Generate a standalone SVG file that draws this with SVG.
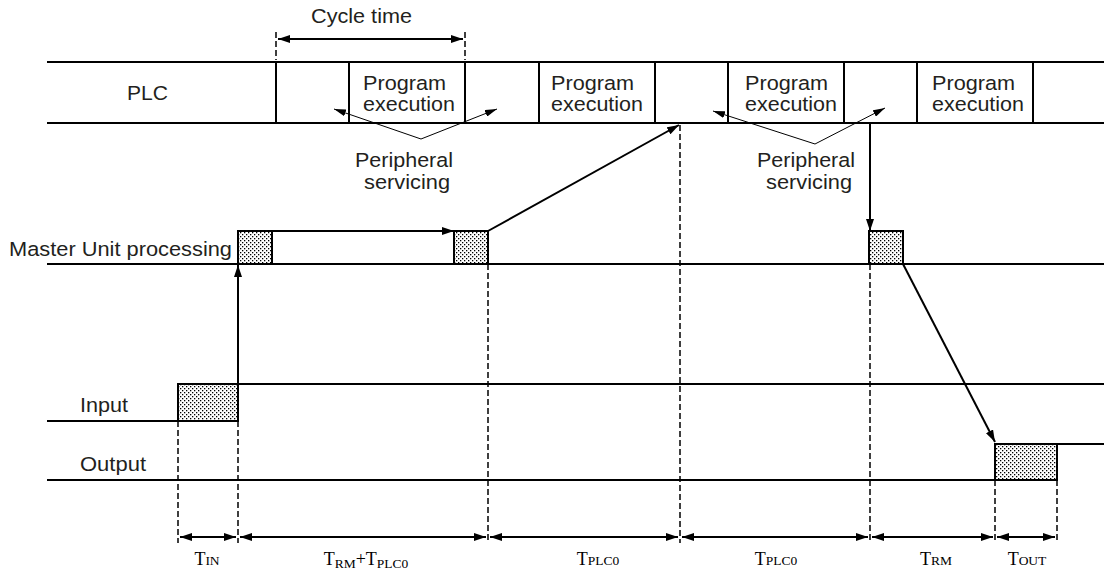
<svg xmlns="http://www.w3.org/2000/svg" width="1104" height="569" viewBox="0 0 1104 569">
<style>
.ln{stroke:#000;stroke-width:2;fill:none}
.thin{stroke:#000;stroke-width:1;fill:none}
.dash{stroke:#000;stroke-width:1.5;stroke-dasharray:6 3;fill:none}
.box{fill:url(#dots);stroke:#000;stroke-width:2}
.t{font-family:"Liberation Sans",Arial,sans-serif;font-size:20.5px;fill:#231f20}
.s{font-family:"Liberation Serif","Times New Roman",serif;fill:#000}
.big{font-size:18px}
.sm{font-size:13.5px}
</style>
<defs>
<pattern id="dots" width="4" height="4" patternUnits="userSpaceOnUse">
<rect width="4" height="4" fill="#fff"/>
<rect x="0" y="0" width="1.3" height="1.3" fill="#000"/>
<rect x="2" y="2" width="1.3" height="1.3" fill="#000"/>
</pattern>
<marker id="ah" viewBox="0 0 12 8" refX="12" refY="4" markerWidth="12" markerHeight="8" markerUnits="userSpaceOnUse" orient="auto-start-reverse">
<path d="M0,0 L12,4 L0,8 z" fill="#000"/>
</marker>
<marker id="ahs" viewBox="0 0 12 7" refX="12" refY="3.5" markerWidth="12" markerHeight="7" markerUnits="userSpaceOnUse" orient="auto">
<path d="M0,0 L12,3.5 L0,7 z" fill="#000"/>
</marker>
</defs>

<g id="plc">
<line class="ln" x1="47" y1="62" x2="1104" y2="62"/>
<line class="ln" x1="47" y1="123" x2="1104" y2="123"/>
<path class="ln" d="M276,62V123M349,62V123M465,62V123M539,62V123M655,62V123M728,62V123M844,62V123M917,62V123M1033,62V123"/>
<text class="t" x="127" y="100" textLength="41" lengthAdjust="spacingAndGlyphs">PLC</text>
<text class="t" x="363" y="90" textLength="83" lengthAdjust="spacingAndGlyphs">Program</text><text class="t" x="363" y="111" textLength="92" lengthAdjust="spacingAndGlyphs">execution</text>
<text class="t" x="551" y="90" textLength="83" lengthAdjust="spacingAndGlyphs">Program</text><text class="t" x="551" y="111" textLength="92" lengthAdjust="spacingAndGlyphs">execution</text>
<text class="t" x="745" y="90" textLength="83" lengthAdjust="spacingAndGlyphs">Program</text><text class="t" x="745" y="111" textLength="92" lengthAdjust="spacingAndGlyphs">execution</text>
<text class="t" x="932" y="90" textLength="83" lengthAdjust="spacingAndGlyphs">Program</text><text class="t" x="932" y="111" textLength="92" lengthAdjust="spacingAndGlyphs">execution</text>
</g>

<g id="cycle-time">
<path class="dash" d="M276,32V60M465,32V60"/>
<line class="ln" x1="278" y1="39" x2="463" y2="39" marker-start="url(#ah)" marker-end="url(#ah)"/>
<text class="t" x="311" y="23" textLength="101" lengthAdjust="spacingAndGlyphs">Cycle time</text>
</g>

<g id="peripheral-1">
<line class="thin" x1="421" y1="139" x2="334" y2="109" marker-end="url(#ahs)"/>
<line class="thin" x1="421" y1="139" x2="497" y2="109" marker-end="url(#ahs)"/>
<text class="t" x="355" y="167" textLength="98" lengthAdjust="spacingAndGlyphs">Peripheral</text>
<text class="t" x="364" y="189" textLength="86" lengthAdjust="spacingAndGlyphs">servicing</text>
</g>

<g id="peripheral-2">
<line class="thin" x1="815" y1="144" x2="713" y2="111" marker-end="url(#ahs)"/>
<line class="thin" x1="815" y1="144" x2="885" y2="108" marker-end="url(#ahs)"/>
<text class="t" x="757" y="167" textLength="98" lengthAdjust="spacingAndGlyphs">Peripheral</text>
<text class="t" x="766" y="189" textLength="86" lengthAdjust="spacingAndGlyphs">servicing</text>
</g>

<g id="master">
<line class="ln" x1="47" y1="264" x2="1104" y2="264"/>
<rect class="box" x="238" y="231" width="34" height="33"/>
<rect class="box" x="454" y="231" width="34" height="33"/>
<rect class="box" x="869" y="231" width="34" height="33"/>
<text class="t" x="9" y="256" textLength="223" lengthAdjust="spacingAndGlyphs">Master Unit processing</text>
</g>

<g id="input">
<path class="ln" d="M47,421H178M238,384H1104"/>
<rect class="box" x="178" y="384" width="60" height="37"/>
<text class="t" x="80" y="412" textLength="48" lengthAdjust="spacingAndGlyphs">Input</text>
</g>

<g id="output">
<path class="ln" d="M47,480H995M1057,444H1104"/>
<rect class="box" x="995" y="444" width="62" height="36"/>
<text class="t" x="80" y="471" textLength="66" lengthAdjust="spacingAndGlyphs">Output</text>
</g>

<g id="connectors">
<line class="ln" x1="238" y1="384" x2="238" y2="265" marker-end="url(#ah)"/>
<line class="ln" x1="272" y1="231" x2="454" y2="231" marker-end="url(#ah)"/>
<line class="ln" x1="488" y1="231" x2="679" y2="125" marker-end="url(#ah)"/>
<line class="ln" x1="870" y1="123" x2="870" y2="231" marker-end="url(#ah)"/>
<line class="ln" x1="903" y1="264" x2="995" y2="442" marker-end="url(#ah)"/>
</g>

<g id="dimensions">
<path class="dash" d="M178,421V543M238,421V543M488,264V543M680,125V543M870,264V543M995,480V543M1057,480V543"/>
<line class="ln" x1="180" y1="537" x2="236" y2="537" marker-start="url(#ah)" marker-end="url(#ah)"/>
<line class="ln" x1="240" y1="537" x2="486" y2="537" marker-start="url(#ah)" marker-end="url(#ah)"/>
<line class="ln" x1="490" y1="537" x2="678" y2="537" marker-start="url(#ah)" marker-end="url(#ah)"/>
<line class="ln" x1="682" y1="537" x2="868" y2="537" marker-start="url(#ah)" marker-end="url(#ah)"/>
<line class="ln" x1="872" y1="537" x2="993" y2="537" marker-start="url(#ah)" marker-end="url(#ah)"/>
<line class="ln" x1="997" y1="537" x2="1055" y2="537" marker-start="url(#ah)" marker-end="url(#ah)"/>
<text class="s" x="207" y="565" text-anchor="middle"><tspan class="big">T</tspan><tspan class="sm">IN</tspan></text>
<text class="s" x="366" y="565" text-anchor="middle"><tspan class="big">T</tspan><tspan class="sm" dy="3">RM</tspan><tspan class="big" dy="-3">+T</tspan><tspan class="sm" dy="3">PLC0</tspan></text>
<text class="s" x="598" y="565" text-anchor="middle"><tspan class="big">T</tspan><tspan class="sm">PLC0</tspan></text>
<text class="s" x="776" y="565" text-anchor="middle"><tspan class="big">T</tspan><tspan class="sm">PLC0</tspan></text>
<text class="s" x="936" y="565" text-anchor="middle"><tspan class="big">T</tspan><tspan class="sm">RM</tspan></text>
<text class="s" x="1027" y="565" text-anchor="middle"><tspan class="big">T</tspan><tspan class="sm">OUT</tspan></text>
</g>
</svg>
